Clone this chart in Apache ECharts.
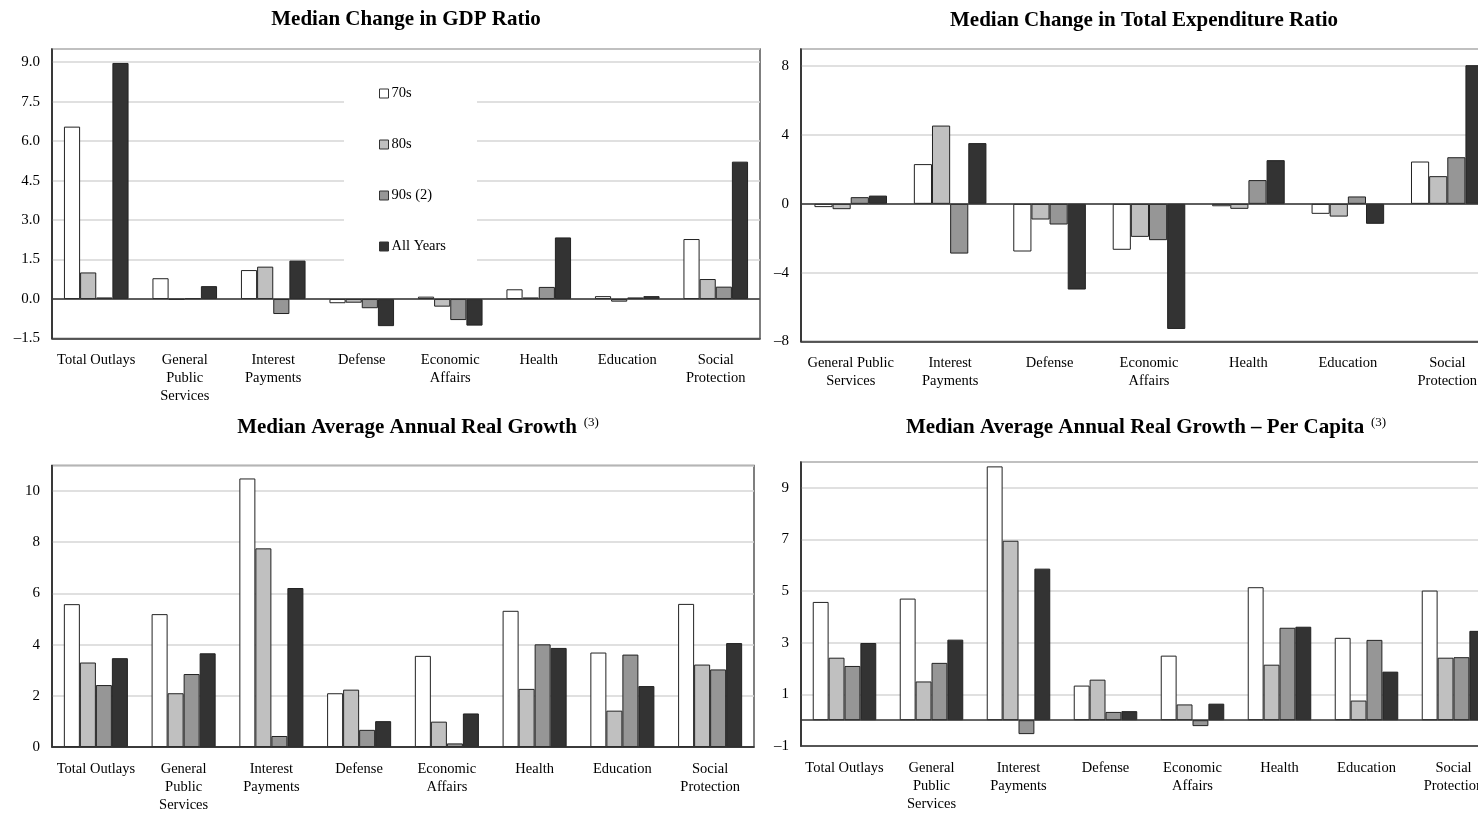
<!DOCTYPE html>
<html>
<head>
<meta charset="utf-8">
<script src="https://cdn.jsdelivr.net/npm/echarts@6/dist/echarts.min.js"></script>
<style>
    html, body { margin: 0; padding: 0; background: #fff; overflow: hidden; }
    /* wider than the window: the right-hand panels run off the edge */
    #main { width: 1500px; height: 814px; }
</style>
</head>
<body>
<div id="main"></div>
<script>
var seriesNames = ['70s', '80s', '90s (2)', 'All Years'];
var barColors = ['#ffffff', '#c0c0c0', '#969696', '#333333'];

var catsA = ['Total Outlays', 'General\nPublic\nServices', 'Interest\nPayments', 'Defense', 'Economic\nAffairs', 'Health', 'Education', 'Social\nProtection'];
var catsB = ['General Public\nServices', 'Interest\nPayments', 'Defense', 'Economic\nAffairs', 'Health', 'Education', 'Social\nProtection'];

// Median change in GDP ratio
var gdp70s = [6.55, 0.79, 1.10, -0.16, 0.09, 0.37, 0.11, 2.28];
var gdp80s = [1.01, -0.02, 1.23, -0.14, -0.29, 0.06, -0.10, 0.76];
var gdp90s = [0.06, 0.03, -0.57, -0.35, -0.80, 0.46, 0.06, 0.47];
var gdpAll = [8.97, 0.49, 1.46, -1.03, -1.01, 2.34, 0.11, 5.22];

// Median change in total expenditure ratio
var exp70s = [-0.19, 2.31, -2.77, -2.67, -0.14, -0.58, 2.46];
var exp80s = [-0.31, 4.55, -0.91, -1.92, -0.29, -0.74, 1.61];
var exp90s = [0.39, -2.89, -1.20, -2.11, 1.38, 0.43, 2.71];
var expAll = [0.48, 3.53, -4.98, -7.27, 2.54, -1.16, 8.06];

// Median average annual real growth
var gr70s = [5.58, 5.19, 10.49, 2.10, 3.56, 5.32, 3.69, 5.59];
var gr80s = [3.30, 2.10, 7.76, 2.24, 0.99, 2.27, 1.42, 3.22];
var gr90s = [2.42, 2.85, 0.43, 0.67, 0.14, 4.01, 3.61, 3.03];
var grAll = [3.47, 3.66, 6.21, 1.01, 1.31, 3.87, 2.38, 4.06];

// Median average annual real growth per capita
var pc70s = [4.58, 4.71, 9.83, 1.34, 2.50, 5.15, 3.19, 5.02];
var pc80s = [2.42, 1.50, 6.95, 1.57, 0.61, 2.15, 0.76, 2.42];
var pc90s = [2.10, 2.22, -0.54, 0.32, -0.23, 3.58, 3.11, 2.44];
var pcAll = [2.99, 3.12, 5.87, 0.35, 0.64, 3.62, 1.88, 3.46];

var serif = "'Liberation Serif', 'Times New Roman', serif";

var minusFmt = function (digits) {
    return function (v) {
        var s = Math.abs(v).toFixed(digits);
        return v < 0 ? '\u2013' + s : s;
    };
};

var grids = [
    { left: 52, top: 49, width: 708, height: 289.5 },
    { left: 801, top: 49, width: 696, height: 292.5 },
    { left: 52, top: 465.4, width: 702, height: 284.6 },
    { left: 801, top: 462, width: 696, height: 284 }
];
grids.forEach(function (g) {
    g.show = true;
    g.borderColor = '#555';
    g.borderWidth = 1.5;
    g.containLabel = false;
});

var panels = [
    { cats: catsA, data: [gdp70s, gdp80s, gdp90s, gdpAll], min: -1.5, max: 9.5, interval: 1.5, digits: 1 },
    { cats: catsB, data: [exp70s, exp80s, exp90s, expAll], min: -8, max: 9, interval: 4, digits: 0 },
    { cats: catsA, data: [gr70s, gr80s, gr90s, grAll], min: 0, max: 11, interval: 2, digits: 0 },
    { cats: catsA, data: [pc70s, pc80s, pc90s, pcAll], min: -1, max: 10, interval: 2, digits: 0 }
];

var xAxes = [], yAxes = [], series = [];
panels.forEach(function (p, i) {
    xAxes.push({
        type: 'category',
        gridIndex: i,
        data: p.cats,
        axisLine: { show: true, onZero: false, lineStyle: { color: '#333', width: 1.5 } },
        axisTick: { show: false },
        axisLabel: {
            interval: 0,
            margin: 13,
            color: '#000',
            fontFamily: serif,
            fontSize: 14.5,
            lineHeight: 18
        }
    });
    yAxes.push({
        type: 'value',
        gridIndex: i,
        min: p.min,
        max: p.max,
        interval: p.interval,
        axisLine: { show: true, lineStyle: { color: '#222', width: 1.5 } },
        axisTick: { show: false },
        axisLabel: {
            margin: 12,
            color: '#000',
            fontFamily: serif,
            fontSize: 15,
            showMaxLabel: false,
            formatter: minusFmt(p.digits)
        },
        splitLine: { lineStyle: { color: '#d6d6d6', width: 1.5 } }
    });
    p.data.forEach(function (vals, k) {
        var s = {
            name: seriesNames[k],
            type: 'bar',
            xAxisIndex: i,
            yAxisIndex: i,
            data: vals,
            barGap: '0%',
            barCategoryGap: '27%',
            itemStyle: { color: barColors[k], borderColor: '#222', borderWidth: 1 },
            animation: false
        };
        if (k === 0) {
            //零线
            s.markLine = {
                silent: true,
                symbol: 'none',
                label: { show: false },
                lineStyle: { color: '#333', width: 1.5, type: 'solid' },
                data: [{ yAxis: 0 }]
            };
        }
        series.push(s);
    });
});

var titleFont = 'bold 21px ' + serif;
var titles = [
    { x: 406, y: 20, text: '{m|Median Change in GDP Ratio}' },
    { x: 1144, y: 21, text: '{m|Median Change in Total Expenditure Ratio}' },
    { x: 418, y: 428, text: '{m|Median Average Annual Real Growth}  {s|(3)}' },
    { x: 1146, y: 428, text: '{m|Median Average Annual Real Growth \u2013 Per Capita}  {s|(3)}' }
];

var myChart = echarts.init(document.getElementById('main'));
var option = {
    backgroundColor: '#fff',
    animation: false,
    legend: {
        data: seriesNames,
        orient: 'vertical',
        left: 344,
        top: 66,
        padding: [20, 31, 20, 35],
        backgroundColor: '#fff',
        itemWidth: 9,
        itemHeight: 9,
        itemGap: 36,
        icon: 'rect',
        selectedMode: false,
        itemStyle: { borderColor: '#333', borderWidth: 1 },
        textStyle: { color: '#000', fontFamily: serif, fontSize: 14.5, padding: [0, 0, 0, -2] }
    },
    grid: grids,
    xAxis: xAxes,
    yAxis: yAxes,
    series: series,
    graphic: titles.map(function (t) {
        return {
            type: 'text',
            x: t.x,
            y: t.y,
            style: {
                text: t.text,
                align: 'center',
                verticalAlign: 'middle',
                rich: {
                    m: { font: titleFont, fill: '#000', lineHeight: 24 },
                    s: { fontFamily: serif, fontSize: 13, fill: '#000', verticalAlign: 'top', padding: [0, 0, 8, 0] }
                }
            }
        };
    })
};
myChart.setOption(option);
</script>
</body>
</html>
